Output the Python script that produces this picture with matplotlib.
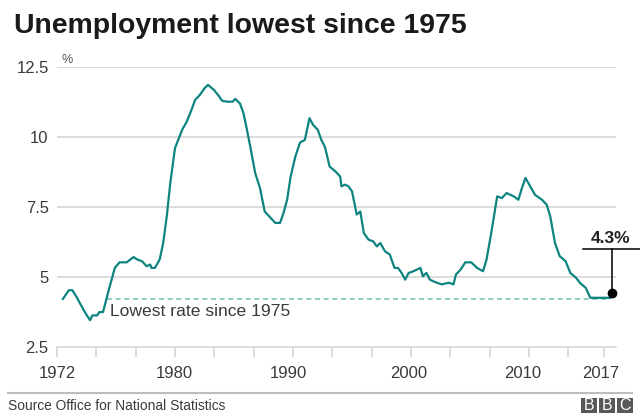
import matplotlib
matplotlib.use("Agg")
import matplotlib.pyplot as plt
from matplotlib.patches import Rectangle

plt.rcParams['font.family'] = ['Liberation Sans', 'DejaVu Sans']

# Unemployment rate (%); x is position on the chart's year axis
years = [1970.5, 1971.0, 1971.3, 1971.7, 1972.0, 1972.4, 1972.8, 1973.0, 1973.4, 1973.6,
         1973.9, 1974.4, 1974.9, 1975.3, 1975.9, 1976.5, 1976.8, 1977.2, 1977.6, 1977.9,
         1978.0, 1978.3, 1978.7, 1979.0, 1979.3, 1979.6, 1980.0, 1980.6, 1981.0, 1981.4,
         1981.7, 1982.1, 1982.5, 1982.8, 1983.3, 1983.7, 1984.0, 1984.4, 1984.9, 1985.1,
         1985.5, 1985.8, 1986.1, 1986.4, 1986.8, 1987.2, 1987.6, 1988.1, 1988.5, 1988.9,
         1989.2, 1989.5, 1989.8, 1990.2, 1990.6, 1991.0, 1991.4, 1991.7, 1992.1, 1992.4,
         1992.7, 1993.1, 1993.6, 1994.0, 1994.1, 1994.4, 1994.7, 1995.0, 1995.4, 1995.7,
         1996.0, 1996.4, 1996.8, 1997.1, 1997.4, 1997.8, 1998.2, 1998.6, 1998.9, 1999.2,
         1999.5, 1999.8, 2000.2, 2000.8, 2001.0, 2001.3, 2001.6, 2002.0, 2002.6, 2003.2,
         2003.6, 2003.8, 2004.2, 2004.6, 2005.1, 2005.6, 2006.1, 2006.4, 2006.8, 2007.3,
         2007.7, 2008.1, 2008.7, 2009.1, 2009.4, 2009.7, 2010.1, 2010.5, 2011.1, 2011.5,
         2011.8, 2012.2, 2012.6, 2013.1, 2013.5, 2014.0, 2014.3, 2014.8, 2015.2, 2016.9]
rate = [4.21, 4.52, 4.52, 4.25, 4.01, 3.71, 3.45, 3.62, 3.62, 3.74,
        3.74, 4.55, 5.32, 5.52, 5.52, 5.71, 5.62, 5.56, 5.38, 5.44,
        5.32, 5.32, 5.62, 6.21, 7.16, 8.36, 9.61, 10.26, 10.56, 10.98,
        11.33, 11.51, 11.75, 11.87, 11.69, 11.48, 11.30, 11.27, 11.27, 11.37,
        11.21, 10.86, 10.26, 9.61, 8.71, 8.18, 7.34, 7.11, 6.93, 6.93,
        7.29, 7.76, 8.59, 9.31, 9.81, 9.90, 10.68, 10.44, 10.26, 9.90,
        9.66, 8.95, 8.77, 8.59, 8.24, 8.30, 8.24, 8.06, 7.23, 7.34,
        6.57, 6.33, 6.27, 6.09, 6.21, 5.91, 5.80, 5.32, 5.32, 5.14,
        4.90, 5.14, 5.20, 5.32, 5.02, 5.14, 4.90, 4.82, 4.73, 4.79,
        4.73, 5.08, 5.26, 5.52, 5.52, 5.32, 5.20, 5.62, 6.57, 7.88,
        7.82, 8.00, 7.88, 7.76, 8.18, 8.54, 8.24, 7.94, 7.76, 7.58,
        7.16, 6.21, 5.74, 5.56, 5.14, 4.96, 4.79, 4.61, 4.25, 4.25]

lowest_rate = 4.22
lowest_from, lowest_to = 1974.24, 2016.86
latest_label = "4.3%"

tick_marks = [1970.0, 1973.33, 1976.67, 1980.0, 1983.33, 1986.67, 1990.0, 1993.33,
              1996.67, 2000.0, 2003.33, 2006.67, 2010.0, 2013.33, 2016.33]
year_label_pos = [1970.06, 1979.97, 1989.58, 1999.77, 2009.47, 2016.04]
year_labels = ["1972", "1980", "1990", "2000", "2010", "2017"]
y_ticks = [2.5, 5, 7.5, 10, 12.5]
y_labels = ["2.5", "5", "7.5", "10", "12.5"]

W, H = 640, 420
fig = plt.figure(figsize=(W / 100, H / 100), dpi=100)
ax = fig.add_axes([57 / W, 1 - 346.7 / H, (616 - 57) / W, (346.7 - 67.3) / H])

teal = "#0d8480"
grid_c = "#d2d2d2"
text_c = "#3a3a3a"

ax.set_xlim(1970.0, 2017.37)
ax.set_ylim(2.5, 12.5)

for v in y_ticks[1:]:
    ax.axhline(v, color=grid_c, lw=1.1, zorder=0)

ax.plot([lowest_from, lowest_to], [lowest_rate, lowest_rate], color="#82c2be", lw=1.2,
        dashes=(3, 2.2), zorder=1)
ax.plot(years, rate, color=teal, lw=1.6, solid_joinstyle="round", zorder=3)

# annotation for latest value
ax.plot([2017.06], [4.43], "o", color="black", ms=6, zorder=4, clip_on=False)
ax.plot([2017.06, 2017.06], [4.43, 6.01], color="black", lw=1.1, zorder=4, clip_on=False)
ax.plot([2014.58, 2019.4], [6.01, 6.01], color="black", lw=1.1, zorder=4, clip_on=False)
ax.text(2016.9, 6.12, latest_label, ha="center", va="bottom", fontsize=12.5,
        fontweight="bold", color="#222222")

ax.text(1974.49, 3.77, "Lowest rate since 1975", ha="left", va="center",
        fontsize=12.6, color=text_c)

for s in ["top", "right", "left"]:
    ax.spines[s].set_visible(False)
ax.spines["bottom"].set_color(grid_c)
ax.spines["bottom"].set_linewidth(1.1)

ax.set_yticks(y_ticks)
ax.set_yticklabels(y_labels)
ax.tick_params(axis="y", length=0, pad=6, labelsize=12, labelcolor=text_c)

ax.set_xticks(year_label_pos)
ax.set_xticklabels(year_labels)
ax.set_xticks(tick_marks, minor=True)
ax.tick_params(axis="x", which="major", length=0, pad=14, labelsize=12, labelcolor=text_c)
ax.tick_params(axis="x", which="minor", length=7.5, width=1.1, color=grid_c)

fig.text(62 / W, 1 - 60 / H, "%", fontsize=9, color="#555555", ha="left", va="center")

fig.text(14 / W, 1 - 33 / H, "Unemployment lowest since 1975", fontsize=20.4,
         fontweight="bold", color="#1a1a1a", ha="left", va="baseline")

# footer
fig.add_artist(plt.Line2D([8 / W, 632 / W], [1 - 392.7 / H] * 2, color="#bdbdbd", lw=1.5))
fig.text(8 / W, 1 - 406.5 / H, "Source Office for National Statistics", fontsize=9.9,
         color=text_c, ha="left", va="center")

for i, letter in enumerate("BBC"):
    x0 = 581 + i * 18
    fig.add_artist(Rectangle((x0 / W, 1 - 413 / H), 16 / W, 15.5 / H,
                             transform=fig.transFigure, color="#585858", lw=0))
    fig.text((x0 + 8) / W, 1 - 405.5 / H, letter, fontsize=11.5,
             color="white", ha="center", va="center")

fig.savefig("out.png", dpi=100)
